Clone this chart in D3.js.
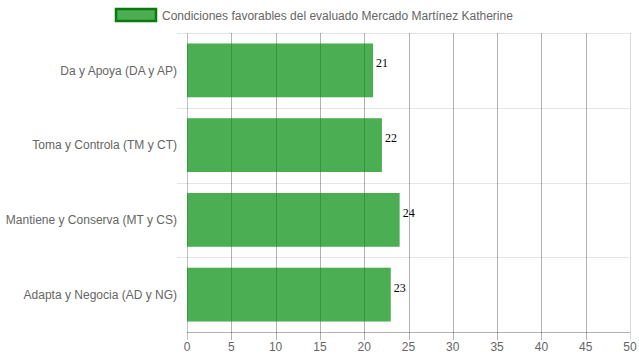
<!DOCTYPE html>
<html><head><meta charset="utf-8">
<script src="https://cdn.jsdelivr.net/npm/d3@7"></script>
<style>body{margin:0;background:#fff}svg{display:block}</style>
</head><body><svg id="c" width="639" height="360"></svg>
<script>
const categories = ["Da y Apoya (DA y AP)", "Toma y Controla (TM y CT)", "Mantiene y Conserva (MT y CS)", "Adapta y Negocia (AD y NG)"];
const values = [21, 22, 24, 23];
const xTicks = [0,5,10,15,20,25,30,35,40,45,50];
const seriesName = "Condiciones favorables del evaluado Mercado Martínez Katherine";

const svg = d3.select("#c");
const pLeft = 187, pRight = 630, pTop = 33, pBottom = 332;
const x = d3.scaleLinear().domain([0,50]).range([pLeft,pRight]);
const y = d3.scaleBand().domain(categories).range([pTop,pBottom]);
const bandInner = 0.72;
const font = "Arial, 'Liberation Sans', sans-serif";

// horizontal grid (category boundaries)
const bounds = categories.map(c => y(c));
svg.append("g").selectAll("line").data(bounds).join("line")
  .attr("x1", pLeft-10).attr("x2", pRight).attr("y1", d=>Math.round(d)+0.5).attr("y2", d=>Math.round(d)+0.5)
  .attr("stroke", "rgba(0,0,0,0.1)");

// vertical grid
svg.append("g").selectAll("line").data(xTicks).join("line")
  .attr("x1", d=>Math.round(x(d))+0.5).attr("x2", d=>Math.round(x(d))+0.5)
  .attr("y1", pTop).attr("y2", pBottom+8)
  .attr("stroke", d => d===0 ? "rgba(0,0,0,0.25)" : (d===50 ? "rgba(0,0,0,0.15)" : "rgba(0,0,0,0.3)"));

// x axis line
svg.append("line").attr("x1", pLeft).attr("x2", pRight).attr("y1", pBottom+0.5).attr("y2", pBottom+0.5)
  .attr("stroke", "rgba(0,0,0,0.3)");

// bars
svg.append("g").selectAll("rect").data(values).join("rect")
  .attr("x", x(0))
  .attr("y", (d,i) => y(categories[i]) + y.bandwidth()*(1-bandInner)/2)
  .attr("width", d => x(d) - x(0))
  .attr("height", y.bandwidth()*bandInner)
  .attr("fill", "rgba(0,140,8,0.7)");

// value labels
svg.append("g").selectAll("text").data(values).join("text")
  .attr("x", d => x(d) + 3)
  .attr("y", (d,i) => y(categories[i]) + y.bandwidth()/2 - 3)
  .attr("font-family", "'Times New Roman', 'Liberation Serif', serif")
  .attr("font-size", 12).attr("fill", "#000")
  .text(d => d);

// y labels
svg.append("g").selectAll("text").data(categories).join("text")
  .attr("x", pLeft-10).attr("y", d => y(d)+y.bandwidth()/2)
  .attr("dy", "0.35em").attr("text-anchor", "end")
  .attr("font-family", font).attr("font-size", 12).attr("fill", "#666")
  .text(d => d);

// x labels
svg.append("g").selectAll("text").data(xTicks).join("text")
  .attr("x", d => x(d)).attr("y", 351)
  .attr("text-anchor", "middle")
  .attr("font-family", font).attr("font-size", 12).attr("fill", "#666")
  .text(d => d);

// legend
svg.append("rect").attr("x", 116).attr("y", 9).attr("width", 40).attr("height", 12)
  .attr("fill", "rgba(0,140,8,0.7)").attr("stroke", "#0a7a0a").attr("stroke-width", 2.5);
svg.append("text").attr("x", 162).attr("y", 19.5)
  .attr("font-family", font).attr("font-size", 12).attr("fill", "#666")
  .text(seriesName);
</script></body></html>
